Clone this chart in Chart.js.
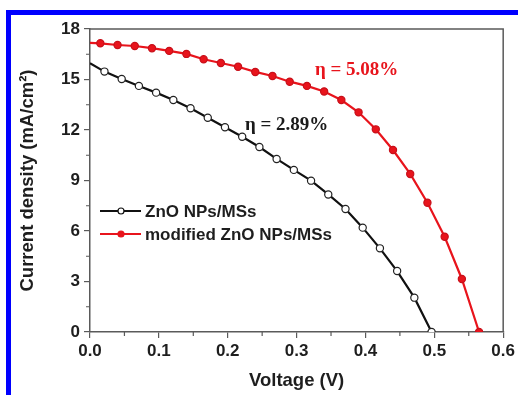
<!DOCTYPE html>
<html>
<head>
<meta charset="utf-8">
<script src="https://cdn.jsdelivr.net/npm/chart.js@4.4.1/dist/chart.umd.min.js"></script>
<style>
  html, body { margin: 0; padding: 0; background: #fff; }
  #wrap { position: relative; width: 518px; height: 395px; overflow: hidden; }
  #wrap canvas { position: absolute; left: 0; top: 0; }
  .frame-top { position: absolute; left: 6px; top: 10px; width: 512px; height: 5px; background: #0000ff; }
  .frame-left { position: absolute; left: 6px; top: 10px; width: 5px; height: 385px; background: #0000ff; }
</style>
</head>
<body>
<div id="wrap">
  <canvas id="graph" width="518" height="395"></canvas>
  <div class="frame-top"></div>
  <div class="frame-left"></div>
</div>
<script>
// J-V curves of the two cells
const seriesNames = ["ZnO NPs/MSs", "modified ZnO NPs/MSs"];

const voltageBare = [0, 0.021, 0.046, 0.071, 0.096, 0.121, 0.146, 0.171, 0.196, 0.221, 0.246,
    0.271, 0.296, 0.321, 0.346, 0.371, 0.396, 0.421, 0.446, 0.471, 0.496];
const currentBare = [15.97, 15.47, 15.03, 14.62, 14.22, 13.78, 13.29, 12.73, 12.16, 11.60, 10.99,
    10.28, 9.63, 8.99, 8.17, 7.31, 6.20, 4.97, 3.62, 2.04, 0];

const voltageModified = [0, 0.015, 0.04, 0.065, 0.09, 0.115, 0.14, 0.165, 0.19, 0.215, 0.24,
    0.265, 0.29, 0.315, 0.34, 0.365, 0.39, 0.415, 0.44, 0.465, 0.49, 0.515, 0.54, 0.565];
const currentModified = [17.17, 17.15, 17.05, 16.99, 16.86, 16.70, 16.52, 16.20, 15.98, 15.76, 15.45,
    15.21, 14.87, 14.62, 14.29, 13.78, 13.05, 12.04, 10.81, 9.39, 7.68, 5.66, 3.15, 0];

const efficiencyLabels = ["η = 2.89%", "η = 5.08%"];

const yTicks = [0, 3, 6, 9, 12, 15, 18];
const xTicks = [0, 0.1, 0.2, 0.3, 0.4, 0.5, 0.6];

const toPoints = (xs, ys) => xs.map((x, i) => ({ x: x, y: ys[i] }));

const sans = "'Liberation Sans', Arial, sans-serif";
const serif = "'Liberation Serif', 'Times New Roman', serif";
const axisColor = "#5a5a5a";
const textColor = "#1e1e1e";
const red = "#e8141c";

// minor ticks, top/right frame lines, legend and efficiency notes
const extras = {
    id: "extras",
    afterDraw(chart) {
        const { ctx, chartArea: a, scales } = chart;
        ctx.save();
        ctx.strokeStyle = axisColor;
        ctx.lineWidth = 1.5;
        ctx.beginPath();
        ctx.moveTo(a.left, a.top);
        ctx.lineTo(a.right, a.top);
        ctx.lineTo(a.right, a.bottom);
        ctx.stroke();

        ctx.lineWidth = 1.2;
        ctx.beginPath();
        for (let i = 0; i < yTicks.length - 1; i++) {
            const y = scales.y.getPixelForValue((yTicks[i] + yTicks[i + 1]) / 2);
            ctx.moveTo(a.left - 4, y);
            ctx.lineTo(a.left, y);
        }
        for (let i = 0; i < xTicks.length - 1; i++) {
            const x = scales.x.getPixelForValue((xTicks[i] + xTicks[i + 1]) / 2);
            ctx.moveTo(x, a.bottom);
            ctx.lineTo(x, a.bottom + 4);
        }
        ctx.stroke();

        // legend
        const rows = [
            { y: 211, color: "#111", fill: "#fff" },
            { y: 234, color: red, fill: red }
        ];
        rows.forEach((r, i) => {
            ctx.strokeStyle = r.color;
            ctx.lineWidth = 2;
            ctx.beginPath();
            ctx.moveTo(100, r.y);
            ctx.lineTo(141, r.y);
            ctx.stroke();
            ctx.beginPath();
            ctx.arc(121, r.y, 3, 0, Math.PI * 2);
            ctx.fillStyle = r.fill;
            ctx.fill();
            ctx.lineWidth = 1.2;
            ctx.stroke();
            ctx.fillStyle = textColor;
            ctx.font = "bold 17px " + sans;
            ctx.textAlign = "left";
            ctx.textBaseline = "middle";
            ctx.fillText(seriesNames[i], 145, r.y + 1);
        });

        ctx.font = "bold 19px " + serif;
        ctx.textBaseline = "middle";
        ctx.fillStyle = "#1a1a1a";
        ctx.fillText(efficiencyLabels[0], 245, 125);
        ctx.fillStyle = red;
        ctx.fillText(efficiencyLabels[1], 315, 70);
        ctx.restore();
    }
};

const tickFont = { family: sans, size: 17, weight: "bold" };
const titleFont = { family: sans, size: 18.5, weight: "bold" };

const chart = new Chart(document.getElementById("graph"), {
    type: "scatter",
    data: {
        datasets: [
            {
                label: seriesNames[0],
                data: toPoints(voltageBare, currentBare),
                showLine: true,
                borderColor: "#111",
                borderWidth: 2.2,
                pointBackgroundColor: "#fff",
                pointBorderColor: "#222",
                pointBorderWidth: 1.2,
                pointRadius: c => (c.dataIndex === 0 ? 0 : 3.6)
            },
            {
                label: seriesNames[1],
                data: toPoints(voltageModified, currentModified),
                showLine: true,
                borderColor: red,
                borderWidth: 2.2,
                pointBackgroundColor: red,
                pointBorderColor: "#c8101a",
                pointBorderWidth: 1.2,
                pointRadius: c => (c.dataIndex === 0 ? 0 : 3.6)
            }
        ]
    },
    options: {
        responsive: false,
        animation: false,
        devicePixelRatio: 1,
        layout: { padding: { left: 0, top: 29, right: 13, bottom: 0 } },
        plugins: { legend: { display: false }, tooltip: { enabled: false } },
        scales: {
            x: {
                type: "linear",
                min: 0,
                max: 0.6,
                afterFit: s => { s.height = 63; },
                afterBuildTicks: s => { s.ticks = xTicks.map(v => ({ value: v })); },
                ticks: {
                    font: tickFont,
                    color: textColor,
                    padding: 3,
                    maxRotation: 0,
                    callback: v => v.toFixed(1)
                },
                grid: { drawOnChartArea: false, drawTicks: true, tickLength: 6, color: axisColor, lineWidth: 1.2 },
                border: { color: axisColor, width: 1.5 },
                title: { display: true, text: "Voltage (V)", font: titleFont, color: textColor, padding: { top: 0, bottom: 3 } }
            },
            y: {
                type: "linear",
                min: 0,
                max: 18,
                afterFit: s => { s.width = 90; },
                afterBuildTicks: s => { s.ticks = yTicks.map(v => ({ value: v })); },
                ticks: { font: tickFont, color: textColor, padding: 4 },
                grid: { drawOnChartArea: false, drawTicks: true, tickLength: 6, color: axisColor, lineWidth: 1.2 },
                border: { color: axisColor, width: 1.5 },
                title: { display: true, text: "Current density (mA/cm²)", font: titleFont, color: textColor, padding: { top: 17, bottom: 0 } }
            }
        }
    },
    plugins: [extras]
});
</script>
</body>
</html>
